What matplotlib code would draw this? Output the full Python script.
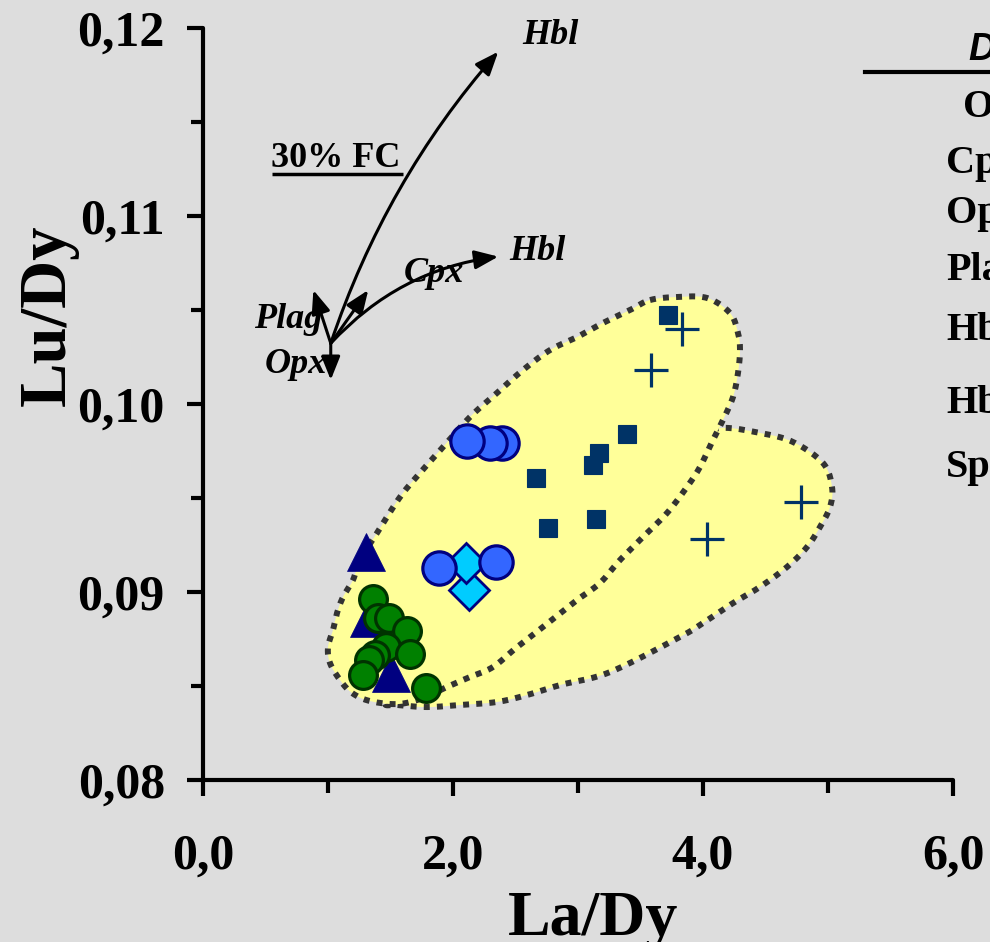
import numpy as np
import matplotlib
matplotlib.use("Agg")
import matplotlib.pyplot as plt
from matplotlib.patches import FancyArrowPatch, Polygon
from matplotlib.ticker import FixedLocator, FixedFormatter

plt.rcParams['font.family'] = ['Liberation Serif', 'DejaVu Serif']

# ---------------- data ----------------
# green circles
grn_x = [1.362, 1.402, 1.488, 1.634, 1.464, 1.656, 1.376, 1.330, 1.282, 1.784]
grn_y = [0.08961, 0.08860, 0.08860, 0.08793, 0.08706, 0.08669, 0.08665, 0.08638, 0.08559, 0.08491]

# navy triangles
tri_x = [1.302, 1.33, 1.502]
tri_y = [0.09214, 0.08862, 0.08567]

# blue circles
blu_x = [2.390, 2.296, 2.110, 1.890, 2.342]
blu_y = [0.09791, 0.09791, 0.09805, 0.09126, 0.09161]

# cyan diamonds
dia_x = [2.128, 2.100]
dia_y = [0.09011, 0.09152]

# dark blue squares
sq_x = [3.718, 3.390, 3.168, 3.118, 2.664, 3.142, 2.762]
sq_y = [0.10473, 0.09839, 0.09741, 0.09674, 0.09606, 0.09390, 0.09339]

# crosses
pl_x = [3.830, 3.582, 4.030, 4.782]
pl_y = [0.10397, 0.10181, 0.09282, 0.09480]

# field outlines (La/Dy, Lu/Dy)
field1_x = [3.576, 3.792, 4.032, 4.216, 4.280, 4.296, 4.280, 4.240, 4.160, 4.080,
            3.976, 3.872, 3.712, 3.520, 3.336, 3.176, 2.992, 2.720, 2.512, 2.320,
            2.136, 1.952, 1.760, 1.560, 1.336, 1.192, 1.096, 1.016, 1.000, 1.040,
            1.072, 1.120, 1.200, 1.256, 1.392, 1.576, 1.736, 1.920, 2.136, 2.352,
            2.560, 2.776, 2.992, 3.200, 3.416]
field1_y = [0.10553, 0.10569, 0.10564, 0.10484, 0.10378, 0.10287, 0.10165, 0.10037, 0.09915, 0.09809,
            0.09665, 0.09559, 0.09420, 0.09293, 0.09170, 0.09048, 0.08957, 0.08814, 0.08707, 0.08601,
            0.08548, 0.08495, 0.08436, 0.08404, 0.08420, 0.08463, 0.08532, 0.08622, 0.08707, 0.08798,
            0.08888, 0.08973, 0.09064, 0.09170, 0.09314, 0.09505, 0.09633, 0.09771, 0.09931, 0.10059,
            0.10181, 0.10287, 0.10356, 0.10431, 0.10500]

field2_x = [1.456, 1.552, 1.792, 2.056, 2.352, 2.592, 2.856, 3.256, 3.816, 4.000,
            4.240, 4.456, 4.672, 4.832, 4.936, 5.016, 5.032, 4.960, 4.720, 4.456,
            4.136, 3.896, 3.176, 2.376, 1.736, 1.520]
field2_y = [0.08404, 0.08399, 0.08388, 0.08399, 0.08415, 0.08452, 0.08505, 0.08574, 0.08761, 0.08835,
            0.08941, 0.09027, 0.09133, 0.09239, 0.09346, 0.09452, 0.09559, 0.09686, 0.09798, 0.09846,
            0.09872, 0.09809, 0.09489, 0.09117, 0.08745, 0.08479]

# 30% fractional crystallisation vectors: (label, end x, end y, curvature)
fc_origin = (1.022, 0.10323)
fc_vectors = [
    ("Opx", 1.022, 0.10128, 0.0),
    ("Plag", 0.883, 0.10606, 0.0),
    ("", 1.322, 0.10606, 0.0),
    ("Cpx-Hbl", 2.362, 0.10784, -0.18),
    ("Hbl", 2.362, 0.11874, -0.10),
]

xtick_vals = [0, 2, 4, 6]
xtick_labels = ["0,0", "2,0", "4,0", "6,0"]
ytick_vals = [0.08, 0.09, 0.10, 0.11, 0.12]
ytick_labels = ["0,08", "0,09", "0,10", "0,11", "0,12"]

table_head = "D"
table_rows = ["Ol", "Cpx", "Opx", "Plag", "Hbl", "Hbl", "Sp"]


def closed_spline(xs, ys, n=14):
    """Periodic uniform Catmull-Rom curve through the outline points."""
    p = np.column_stack([xs, ys])
    m = len(p)
    out = []
    for i in range(m):
        p0, p1, p2, p3 = p[(i - 1) % m], p[i], p[(i + 1) % m], p[(i + 2) % m]
        t = np.linspace(0, 1, n, endpoint=False)[:, None]
        pts = 0.5 * ((2 * p1) + (-p0 + p2) * t + (2 * p0 - 5 * p1 + 4 * p2 - p3) * t ** 2
                     + (-p0 + 3 * p1 - 3 * p2 + p3) * t ** 3)
        out.append(pts)
    return np.vstack(out)


BG = "#DDDDDD"
W, H = 990, 942
fig = plt.figure(figsize=(W / 100, H / 100), dpi=100, facecolor=BG)
ax = fig.add_axes([203 / W, 162 / H, 750 / W, 752 / H], facecolor=BG)
ax.set_xlim(0, 6)
ax.set_ylim(0.08, 0.12)

# fields
for fx, fy, z in [(field2_x, field2_y, 1), (field1_x, field1_y, 2)]:
    pts = closed_spline(fx, fy)
    ax.add_patch(Polygon(pts, closed=True, facecolor="#FFFF99", edgecolor="none", zorder=z))
    loop = np.vstack([pts, pts[:1]])
    ax.plot(loop[:, 0], loop[:, 1], color="#333333", lw=4.3, linestyle=(0, (1.0, 1.2)),
            dash_capstyle="butt", zorder=z + 0.5)

# data points
ax.plot(tri_x, tri_y, linestyle="none", marker="^", ms=28, mfc="#000080", mec="#000080", mew=0.5, zorder=5)
ax.plot(grn_x, grn_y, linestyle="none", marker="o", ms=20, mfc="#008000", mec="#003300", mew=2.3, zorder=6)
ax.plot(dia_x, dia_y, linestyle="none", marker="D", ms=20, mfc="#00CCFF", mec="#000080", mew=2.0, zorder=5)
ax.plot(blu_x, blu_y, linestyle="none", marker="o", ms=24, mfc="#3366FF", mec="#000080", mew=2.3, zorder=6)
ax.plot(sq_x, sq_y, linestyle="none", marker="s", ms=13, mfc="#003366", mec="#003366", mew=0.8, zorder=5)
ax.plot(pl_x, pl_y, linestyle="none", marker="+", ms=25, mec="#003366", mew=2.3, zorder=6)

# crystallisation vectors
for lab, ex, ey, rad in fc_vectors:
    arr = FancyArrowPatch(fc_origin, (ex, ey), connectionstyle=f"arc3,rad={rad}",
                          arrowstyle="-|>,head_length=0.95,head_width=0.38", mutation_scale=15,
                          color="black", lw=2.2, shrinkA=0, shrinkB=0, zorder=4)
    ax.add_patch(arr)

lab_kw = dict(fontsize=26, fontweight="bold", fontstyle="italic", ha="center", va="baseline", zorder=4)
ax.text(2.776, 0.11915, "Hbl", **lab_kw)
ax.text(2.675, 0.10766, "Hbl", **lab_kw)
ax.text(1.848, 0.10651, "Cpx", **lab_kw)
ax.text(0.683, 0.10403, "Plag", **lab_kw)
ax.text(0.741, 0.10163, "Opx", **lab_kw)
ax.text(1.061, 0.11262, "30% FC", fontsize=26, fontweight="bold", ha="center", va="baseline")
ax.plot([0.549, 1.597], [0.11223, 0.11223], color="black", lw=2.5, solid_capstyle="butt")

# axes styling
for s in ("top", "right"):
    ax.spines[s].set_visible(False)
for s in ("left", "bottom"):
    ax.spines[s].set_linewidth(3.0)
    ax.spines[s].set_capstyle("round")

ax.xaxis.set_major_locator(FixedLocator(xtick_vals))
ax.xaxis.set_major_formatter(FixedFormatter(xtick_labels))
ax.xaxis.set_minor_locator(FixedLocator([1, 3, 5]))
ax.yaxis.set_major_locator(FixedLocator(ytick_vals))
ax.yaxis.set_major_formatter(FixedFormatter(ytick_labels))
ax.yaxis.set_minor_locator(FixedLocator([0.085, 0.095, 0.105, 0.115]))
ax.tick_params(which="major", direction="out", length=11.5, width=3.0)
ax.tick_params(which="minor", direction="out", length=9, width=3.0)
ax.tick_params(axis="x", which="major", pad=27, labelsize=36)
ax.tick_params(axis="y", which="major", pad=16, labelsize=36)
for lbl in ax.get_xticklabels() + ax.get_yticklabels():
    lbl.set_fontweight("bold")

fig.text(593 / W, 1 - 935 / H, "La/Dy", fontsize=46, fontweight="bold", ha="center", va="baseline")
fig.text(48 / W, 1 - 315 / H, "Lu/Dy", fontsize=48, fontweight="bold", rotation=90,
         ha="center", va="center")

# partition coefficient table header and rows
fig.text(968 / W, 1 - 60 / H, table_head, fontsize=27, fontweight="bold", fontstyle="italic",
         family=["Liberation Sans", "DejaVu Sans"], ha="left", va="baseline")
fig.add_artist(plt.Line2D([865 / W, 1.0], [1 - 72 / H, 1 - 72 / H], color="black", lw=3))
row_base = [117, 173, 223, 280, 340, 413, 477]
row_left = [963, 946, 946, 946, 946, 946, 946]
for name, yb, xl in zip(table_rows, row_base, row_left):
    fig.text(xl / W, 1 - yb / H, name, fontsize=29, fontweight="bold", ha="left", va="baseline")

fig.savefig("out.png", dpi=100, facecolor=BG)
